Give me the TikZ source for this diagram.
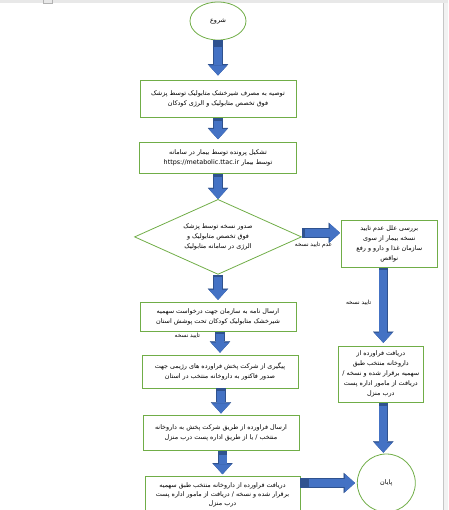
\documentclass[tikz,border=0pt]{standalone}
\usepackage{fontspec}
\usetikzlibrary{positioning, shapes.geometric, arrows.meta}
\TeXXeTstate=1
\newfontfamily\farsifont[Script=Arabic]{DejaVu Sans}
\newcommand{\fa}[1]{\beginR #1\endR}
\definecolor{boxgreen}{HTML}{70AD47}
\definecolor{arrowblue}{HTML}{4472C4}
\definecolor{arrowline}{HTML}{2F528F}
\tikzset{
  stepbox/.style={draw=boxgreen, line width=0.8pt, align=center, inner sep=2pt,
    font=\farsifont\fontsize{6.4}{10}\selectfont},
  startend/.style={stepbox, inner sep=0pt},
  decision/.style={stepbox, diamond, aspect=2.2, inner sep=0pt, minimum width=167pt, minimum height=75pt},
  edgelabel/.style={text=black, font=\farsifont\fontsize{5.8}{7}\selectfont, inner sep=0pt},
  flow/.style={line width=8pt, arrowblue, shorten <=0.8pt,
    -{Triangle[length=10pt, width=18pt, line width=0.1pt]},
    preaction={draw=arrowline, line width=9.6pt, shorten <=0pt,
      -{Triangle[length=11.2pt, width=20.4pt, line width=0.1pt]}}},
}

\begin{document}
\begin{tikzpicture}[x=1pt, y=-1pt]
  \useasboundingbox (0,0) rectangle (448,510);
  % window edges
  \fill[gray!18] (0,0) rectangle (448,3.5);
  \fill[gray!10] (443,3.5) rectangle (448,510);
  \draw[gray!45, line width=1pt] (443.5,3.5) -- (443.5,510);
  \draw[gray!60] (43.5,-1) rectangle (52.5,3.5);

  \node[startend, ellipse, minimum width=56pt, minimum height=38pt] (start) at (218,21) {\fa{شروع}};
  \node[stepbox, minimum width=156pt, minimum height=37pt, below=40pt of start] (advise)
    {\fa{توصیه به مصرف شیرخشک متابولیک توسط پزشک}\\ \fa{فوق تخصص متابولیک و الرژی کودکان}};
  \node[stepbox, minimum width=157pt, minimum height=31pt, below=24pt of advise] (register)
    {\fa{تشکیل پرونده توسط بیمار در سامانه}\\ \fa{توسط بیمار \beginL https://metabolic.ttac.ir\endL}};
  \node[decision, below=25pt of register] (prescribe)
    {\fa{صدور نسخه توسط پزشک}\\ \fa{فوق تخصص متابولیک و}\\ \fa{الرژی در سامانه متابولیک}};
  \node[stepbox, minimum width=96pt, minimum height=47pt, right=39pt of prescribe, yshift=-7pt] (review)
    {\fa{بررسی علل عدم تایید}\\ \fa{نسخه بیمار از سوی}\\ \fa{سازمان غذا و دارو و رفع}\\ \fa{نواقص}};
  \node[stepbox, minimum width=156pt, minimum height=29pt, below=27pt of prescribe] (letter)
    {\fa{ارسال نامه به سازمان جهت درخواست سهمیه}\\ \fa{شیرخشک متابولیک کودکان تحت پوشش استان}};
  \node[stepbox, minimum width=156pt, minimum height=33pt, below=23pt of letter, xshift=2pt] (follow)
    {\fa{پیگیری از شرکت پخش فراورده های رژیمی جهت}\\ \fa{صدور فاکتور به داروخانه منتخب در استان}};
  \node[stepbox, minimum width=156pt, minimum height=35pt, below=27pt of follow, xshift=1pt] (ship)
    {\fa{ارسال فراورده از طریق شرکت پخش به داروخانه}\\ \fa{منتخب / یا از طریق اداره پست درب منزل}};
  \node[stepbox, minimum width=155pt, minimum height=36pt, below=25pt of ship, xshift=1.5pt,
    font=\farsifont\fontsize{6.4}{9}\selectfont] (receive)
    {\fa{دریافت فراورده از داروخانه منتخب طبق سهمیه}\\ \fa{برقرار شده و نسخه / دریافت از مامور اداره پست}\\ \fa{درب منزل}};
  \node[stepbox, minimum width=85pt, minimum height=56pt, below=78pt of review, xshift=-8.5pt] (receive2)
    {\fa{دریافت فراورده از}\\ \fa{داروخانه منتخب طبق}\\ \fa{سهمیه برقرار شده و نسخه /}\\ \fa{دریافت از مامور اداره پست}\\ \fa{درب منزل}};
  \node[startend, circle, minimum size=58pt, below=51pt of receive2, xshift=5.5pt] (finish) {\fa{پایان}};

  \draw[flow, shorten <=7pt, shorten >=5pt] (start) -- (advise);
  \draw[flow, shorten <=3pt, shorten >=3pt] (advise) -- (register);
  \draw[flow, shorten <=3pt] (register) -- (prescribe);
  \draw[flow, shorten <=2pt, shorten >=2pt] (prescribe) -- (letter);
  \draw[flow, shorten <=2pt, shorten >=2pt] (letter.south -| follow) -- (follow)
    node[edgelabel, pos=0.2, left=16pt] {\fa{تایید نسخه}};
  \draw[flow, shorten <=3pt, shorten >=2pt] (follow.south -| ship) -- (ship);
  \draw[flow, shorten <=4pt, shorten >=2pt] (ship.south -| receive) -- (receive);
  \draw[flow, shorten <=3pt, shorten >=1pt] ([yshift=4pt]prescribe.east) -- ([yshift=4pt]prescribe.east -| review.west)
    node[edgelabel, pos=0.3, below=5pt] {\fa{عدم تایید نسخه}};
  \draw[flow, shorten <=2pt, shorten >=3pt] ([xshift=-6pt]review.south) -- ([xshift=-6pt]review.south |- receive2.north)
    node[edgelabel, pos=0.45, left=8pt] {\fa{تایید نسخه}};
  \draw[flow, shorten <=3pt, shorten >=1pt] ([xshift=2.5pt]receive2.south) -- ([xshift=2.5pt]receive2.south |- finish.north);
  \draw[flow, shorten <=9pt, shorten >=2pt] (receive.east |- finish.west) -- (finish.west);
\end{tikzpicture}
\end{document}
